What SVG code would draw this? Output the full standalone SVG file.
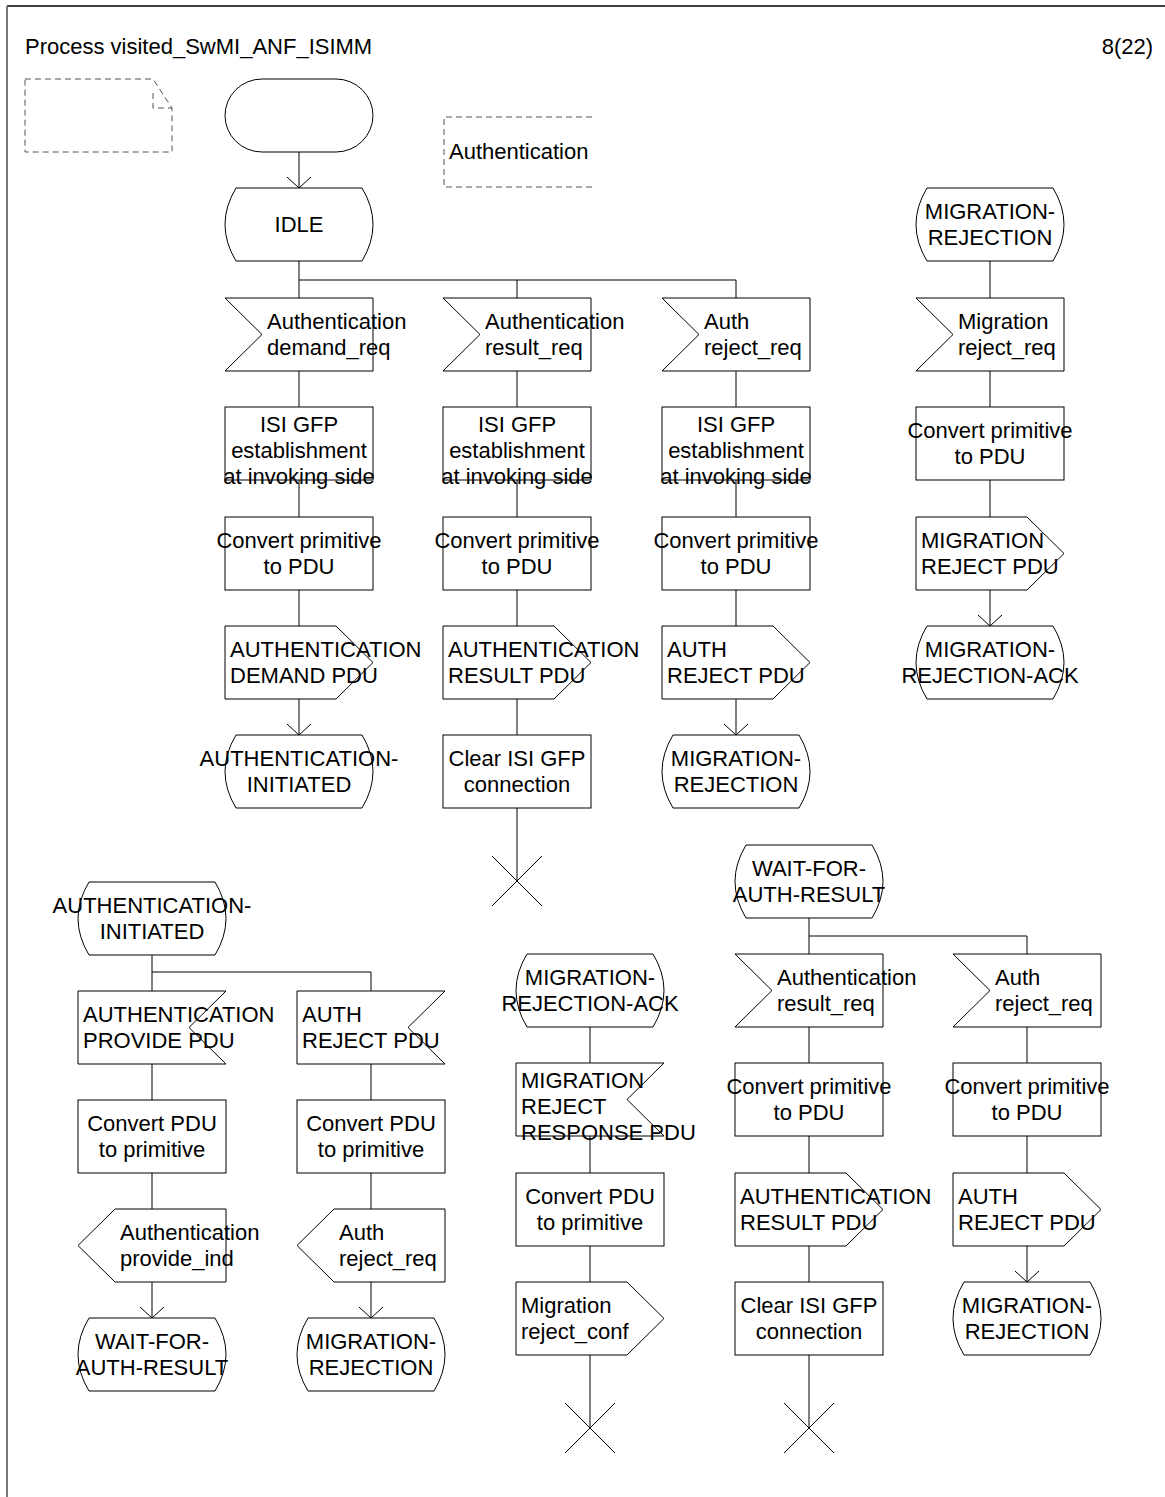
<svg xmlns="http://www.w3.org/2000/svg" width="1165" height="1497" viewBox="0 0 1165 1497">
<style>
.s{fill:#fff;stroke:#000;stroke-width:1}
.c{fill:none;stroke:#000;stroke-width:1}
.d{fill:none;stroke:#555;stroke-width:1;stroke-dasharray:6,4}
text{font-family:"Liberation Sans",Arial,sans-serif;font-size:22px;fill:#000}
.m{text-anchor:middle}
</style>
<defs>
<marker id="ah" markerUnits="userSpaceOnUse" viewBox="-13 -13 14 26" refX="0" refY="0" markerWidth="14" markerHeight="26" orient="auto">
<path d="M-11,-12 L0,0 L-11,12" fill="none" stroke="#000" stroke-width="1"/>
</marker>
</defs>
<rect width="1165" height="1497" fill="#fff"/>
<g id="frame">
<line x1="7" y1="6" x2="1165" y2="6" stroke="#000" stroke-width="1.5"/>
<line x1="7" y1="6" x2="7" y2="1497" stroke="#777" stroke-width="2"/>
<text x="25" y="54">Process visited_SwMI_ANF_ISIMM</text>
<text x="1153" y="54" text-anchor="end">8(22)</text>
</g>
<g id="note">
<path class="d" d="M25,79 H153 L172,108 V152 H25 Z M153,93 V108 H172"/>
</g>
<g id="textsym">
<path class="d" d="M592,117 H444 V187 H592"/>
<text x="449" y="159">Authentication</text>
</g>
<g id="connectors">
<line class="c" x1="299" y1="152" x2="299" y2="188" marker-end="url(#ah)"/>
<path class="c" d="M299,261 V280 H736 V298 M517,280 V298 M299,280 V298"/>
<path class="c" d="M299,371 V407 M299,480 V517 M299,590 V626"/>
<line class="c" x1="299" y1="699" x2="299" y2="735" marker-end="url(#ah)"/>
<path class="c" d="M517,371 V407 M517,480 V517 M517,590 V626 M517,699 V735 M517,808 V881"/>
<path class="c" d="M492,856 L542,906 M542,856 L492,906"/>
<path class="c" d="M736,371 V407 M736,480 V517 M736,590 V626"/>
<line class="c" x1="736" y1="699" x2="736" y2="735" marker-end="url(#ah)"/>
<path class="c" d="M990,261 V298 M990,371 V407 M990,480 V517"/>
<line class="c" x1="990" y1="590" x2="990" y2="626" marker-end="url(#ah)"/>
<path class="c" d="M152,955 V972 H371 V991 M152,972 V991"/>
<path class="c" d="M152,1064 V1100 M152,1173 V1209 M371,1064 V1100 M371,1173 V1209"/>
<line class="c" x1="152" y1="1282" x2="152" y2="1318" marker-end="url(#ah)"/>
<line class="c" x1="371" y1="1282" x2="371" y2="1318" marker-end="url(#ah)"/>
<path class="c" d="M590,1027 V1063 M590,1136 V1173 M590,1246 V1282 M590,1355 V1428"/>
<path class="c" d="M565,1403 L615,1453 M615,1403 L565,1453"/>
<path class="c" d="M809,918 V936 H1027 V954 M809,936 V954"/>
<path class="c" d="M809,1027 V1063 M809,1136 V1173 M809,1246 V1282 M809,1355 V1428"/>
<path class="c" d="M784,1403 L834,1453 M834,1403 L784,1453"/>
<path class="c" d="M1027,1027 V1063 M1027,1136 V1173"/>
<line class="c" x1="1027" y1="1246" x2="1027" y2="1282" marker-end="url(#ah)"/>
</g>
<g id="start">
<path class="s" d="M262,79 H336 A37,36.5 0 0 1 336,152 H262 A37,36.5 0 0 1 262,79 Z"/>
</g>
<g id="idle">
<path class="s" d="M236,188 H362 Q384,224.5 362,261 H236 Q214,224.5 236,188 Z"/>
<text class="m" x="299" y="232">IDLE</text>
</g>
<g id="in1">
<polygon class="s" points="225,298 373,298 373,371 225,371 262,334.5"/>
<text x="267" y="329">Authentication</text><text x="267" y="355">demand_req</text>
</g>
<g id="in2">
<polygon class="s" points="443,298 591,298 591,371 443,371 480,334.5"/>
<text x="485" y="329">Authentication</text><text x="485" y="355">result_req</text>
</g>
<g id="in3">
<polygon class="s" points="662,298 810,298 810,371 662,371 699,334.5"/>
<text x="704" y="329">Auth</text><text x="704" y="355">reject_req</text>
</g>
<g id="st_mr1">
<path class="s" d="M927,188 H1053 Q1075,224.5 1053,261 H927 Q905,224.5 927,188 Z"/>
<text class="m" x="990" y="219">MIGRATION-</text><text class="m" x="990" y="245">REJECTION</text>
</g>
<g id="in4">
<polygon class="s" points="916,298 1064,298 1064,371 916,371 953,334.5"/>
<text x="958" y="329">Migration</text><text x="958" y="355">reject_req</text>
</g>
<g id="task1a">
<rect class="s" x="225" y="407" width="148" height="73"/>
<text class="m" x="299" y="432">ISI GFP</text><text class="m" x="299" y="458">establishment</text><text class="m" x="299" y="484">at invoking side</text>
</g>
<g id="task2a">
<rect class="s" x="443" y="407" width="148" height="73"/>
<text class="m" x="517" y="432">ISI GFP</text><text class="m" x="517" y="458">establishment</text><text class="m" x="517" y="484">at invoking side</text>
</g>
<g id="task3a">
<rect class="s" x="662" y="407" width="148" height="73"/>
<text class="m" x="736" y="432">ISI GFP</text><text class="m" x="736" y="458">establishment</text><text class="m" x="736" y="484">at invoking side</text>
</g>
<g id="task4a">
<rect class="s" x="916" y="407" width="148" height="73"/>
<text class="m" x="990" y="438">Convert primitive</text><text class="m" x="990" y="464">to PDU</text>
</g>
<g id="task1b">
<rect class="s" x="225" y="517" width="148" height="73"/>
<text class="m" x="299" y="548">Convert primitive</text><text class="m" x="299" y="574">to PDU</text>
</g>
<g id="task2b">
<rect class="s" x="443" y="517" width="148" height="73"/>
<text class="m" x="517" y="548">Convert primitive</text><text class="m" x="517" y="574">to PDU</text>
</g>
<g id="task3b">
<rect class="s" x="662" y="517" width="148" height="73"/>
<text class="m" x="736" y="548">Convert primitive</text><text class="m" x="736" y="574">to PDU</text>
</g>
<g id="out4">
<polygon class="s" points="916,517 1027,517 1064,553.5 1027,590 916,590"/>
<text x="921" y="548">MIGRATION</text><text x="921" y="574">REJECT PDU</text>
</g>
<g id="out1">
<polygon class="s" points="225,626 336,626 373,662.5 336,699 225,699"/>
<text x="230" y="657">AUTHENTICATION</text><text x="230" y="683">DEMAND PDU</text>
</g>
<g id="out2">
<polygon class="s" points="443,626 554,626 591,662.5 554,699 443,699"/>
<text x="448" y="657">AUTHENTICATION</text><text x="448" y="683">RESULT PDU</text>
</g>
<g id="out3">
<polygon class="s" points="662,626 773,626 810,662.5 773,699 662,699"/>
<text x="667" y="657">AUTH</text><text x="667" y="683">REJECT PDU</text>
</g>
<g id="st_mra1">
<path class="s" d="M927,626 H1053 Q1075,662.5 1053,699 H927 Q905,662.5 927,626 Z"/>
<text class="m" x="990" y="657">MIGRATION-</text><text class="m" x="990" y="683">REJECTION-ACK</text>
</g>
<g id="st_ai1">
<path class="s" d="M236,735 H362 Q384,771.5 362,808 H236 Q214,771.5 236,735 Z"/>
<text class="m" x="299" y="766">AUTHENTICATION-</text><text class="m" x="299" y="792">INITIATED</text>
</g>
<g id="task2c">
<rect class="s" x="443" y="735" width="148" height="73"/>
<text class="m" x="517" y="766">Clear ISI GFP</text><text class="m" x="517" y="792">connection</text>
</g>
<g id="st_mr2">
<path class="s" d="M673,735 H799 Q821,771.5 799,808 H673 Q651,771.5 673,735 Z"/>
<text class="m" x="736" y="766">MIGRATION-</text><text class="m" x="736" y="792">REJECTION</text>
</g>
<g id="st_ai2">
<path class="s" d="M89,882 H215 Q237,918.5 215,955 H89 Q67,918.5 89,882 Z"/>
<text class="m" x="152" y="913">AUTHENTICATION-</text><text class="m" x="152" y="939">INITIATED</text>
</g>
<g id="inA">
<polygon class="s" points="78,991 226,991 189,1027.5 226,1064 78,1064"/>
<text x="83" y="1022">AUTHENTICATION</text><text x="83" y="1048">PROVIDE PDU</text>
</g>
<g id="inB">
<polygon class="s" points="297,991 445,991 408,1027.5 445,1064 297,1064"/>
<text x="302" y="1022">AUTH</text><text x="302" y="1048">REJECT PDU</text>
</g>
<g id="taskA">
<rect class="s" x="78" y="1100" width="148" height="73"/>
<text class="m" x="152" y="1131">Convert PDU</text><text class="m" x="152" y="1157">to primitive</text>
</g>
<g id="taskB">
<rect class="s" x="297" y="1100" width="148" height="73"/>
<text class="m" x="371" y="1131">Convert PDU</text><text class="m" x="371" y="1157">to primitive</text>
</g>
<g id="outA">
<polygon class="s" points="78,1245.5 115,1209 226,1209 226,1282 115,1282"/>
<text x="120" y="1240">Authentication</text><text x="120" y="1266">provide_ind</text>
</g>
<g id="outB">
<polygon class="s" points="297,1245.5 334,1209 445,1209 445,1282 334,1282"/>
<text x="339" y="1240">Auth</text><text x="339" y="1266">reject_req</text>
</g>
<g id="st_wA">
<path class="s" d="M89,1318 H215 Q237,1354.5 215,1391 H89 Q67,1354.5 89,1318 Z"/>
<text class="m" x="152" y="1349">WAIT-FOR-</text><text class="m" x="152" y="1375">AUTH-RESULT</text>
</g>
<g id="st_mrB">
<path class="s" d="M308,1318 H434 Q456,1354.5 434,1391 H308 Q286,1354.5 308,1318 Z"/>
<text class="m" x="371" y="1349">MIGRATION-</text><text class="m" x="371" y="1375">REJECTION</text>
</g>
<g id="st_wD">
<path class="s" d="M746,845 H872 Q894,881.5 872,918 H746 Q724,881.5 746,845 Z"/>
<text class="m" x="809" y="876">WAIT-FOR-</text><text class="m" x="809" y="902">AUTH-RESULT</text>
</g>
<g id="st_mraC">
<path class="s" d="M527,954 H653 Q675,990.5 653,1027 H527 Q505,990.5 527,954 Z"/>
<text class="m" x="590" y="985">MIGRATION-</text><text class="m" x="590" y="1011">REJECTION-ACK</text>
</g>
<g id="inD">
<polygon class="s" points="735,954 883,954 883,1027 735,1027 772,990.5"/>
<text x="777" y="985">Authentication</text><text x="777" y="1011">result_req</text>
</g>
<g id="inE">
<polygon class="s" points="953,954 1101,954 1101,1027 953,1027 990,990.5"/>
<text x="995" y="985">Auth</text><text x="995" y="1011">reject_req</text>
</g>
<g id="inC">
<polygon class="s" points="516,1063 664,1063 627,1099.5 664,1136 516,1136"/>
<text x="521" y="1088">MIGRATION</text><text x="521" y="1114">REJECT</text><text x="521" y="1140">RESPONSE PDU</text>
</g>
<g id="taskD1">
<rect class="s" x="735" y="1063" width="148" height="73"/>
<text class="m" x="809" y="1094">Convert primitive</text><text class="m" x="809" y="1120">to PDU</text>
</g>
<g id="taskE1">
<rect class="s" x="953" y="1063" width="148" height="73"/>
<text class="m" x="1027" y="1094">Convert primitive</text><text class="m" x="1027" y="1120">to PDU</text>
</g>
<g id="taskC">
<rect class="s" x="516" y="1173" width="148" height="73"/>
<text class="m" x="590" y="1204">Convert PDU</text><text class="m" x="590" y="1230">to primitive</text>
</g>
<g id="outD">
<polygon class="s" points="735,1173 846,1173 883,1209.5 846,1246 735,1246"/>
<text x="740" y="1204">AUTHENTICATION</text><text x="740" y="1230">RESULT PDU</text>
</g>
<g id="outE">
<polygon class="s" points="953,1173 1064,1173 1101,1209.5 1064,1246 953,1246"/>
<text x="958" y="1204">AUTH</text><text x="958" y="1230">REJECT PDU</text>
</g>
<g id="outC">
<polygon class="s" points="516,1282 627,1282 664,1318.5 627,1355 516,1355"/>
<text x="521" y="1313">Migration</text><text x="521" y="1339">reject_conf</text>
</g>
<g id="taskD2">
<rect class="s" x="735" y="1282" width="148" height="73"/>
<text class="m" x="809" y="1313">Clear ISI GFP</text><text class="m" x="809" y="1339">connection</text>
</g>
<g id="st_mrE">
<path class="s" d="M964,1282 H1090 Q1112,1318.5 1090,1355 H964 Q942,1318.5 964,1282 Z"/>
<text class="m" x="1027" y="1313">MIGRATION-</text><text class="m" x="1027" y="1339">REJECTION</text>
</g>
</svg>
